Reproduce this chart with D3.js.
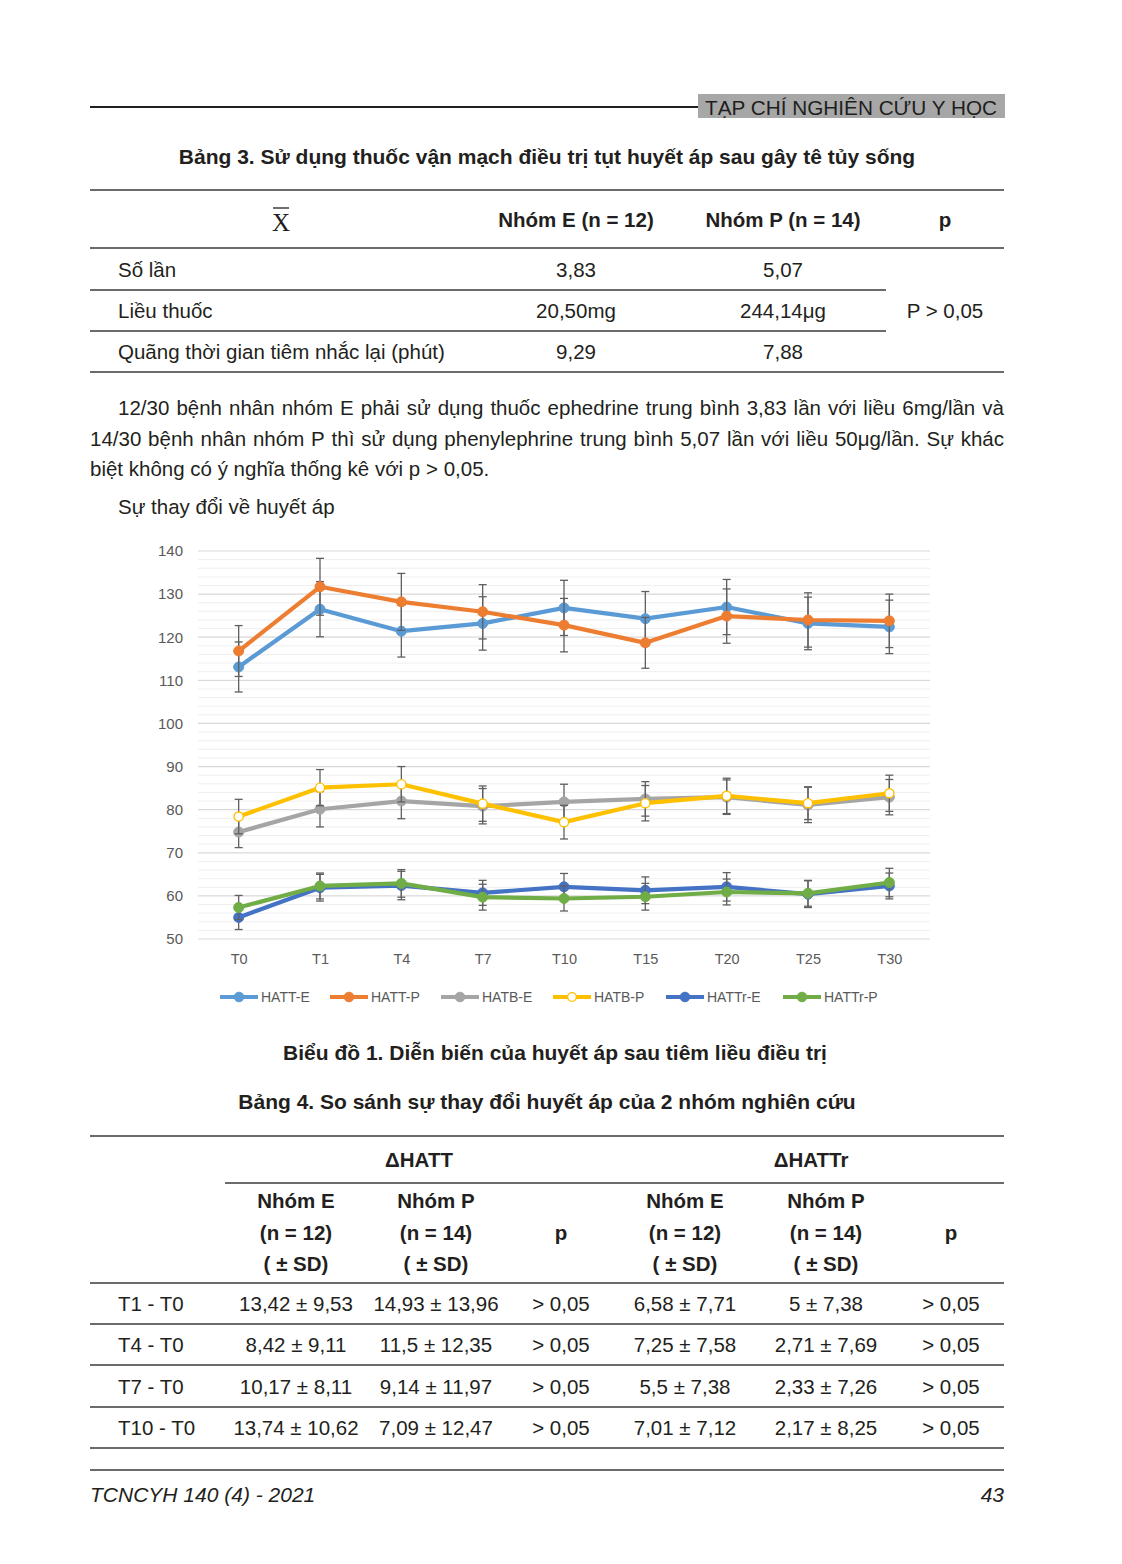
<!DOCTYPE html>
<html>
<head>
<meta charset="utf-8">
<script src="https://cdn.jsdelivr.net/npm/d3@7/dist/d3.min.js"></script>
<style>
  html, body { margin: 0; padding: 0; background: #fff; }
  svg { display: block; }
</style>
</head>
<body>
<svg id="page" width="1122" height="1564"></svg>
<script>
// ---------------- DATA ----------------
const categories = ["T0", "T1", "T4", "T7", "T10", "T15", "T20", "T25", "T30"];
const yTicks = [50, 60, 70, 80, 90, 100, 110, 120, 130, 140];
const seriesNames = ["HATT-E", "HATT-P", "HATB-E", "HATB-P", "HATTr-E", "HATTr-P"];

const hattE   = [113.1, 126.5, 121.4, 123.2, 126.8, 124.3, 127.0, 123.2, 122.4];
const hattESd = [5.8, 6.4, 6.0, 6.2, 6.4, 6.3, 6.4, 6.1, 6.2];
const hattP   = [116.8, 131.7, 128.2, 125.9, 122.8, 118.7, 124.9, 124.0, 123.8];
const hattPSd = [5.9, 6.6, 6.6, 6.3, 6.2, 5.9, 6.3, 6.3, 6.2];
const hatbE   = [74.8, 80.1, 82.0, 80.8, 81.8, 82.5, 82.9, 81.1, 82.9];
const hatbESd = [3.6, 4.1, 4.1, 4.1, 4.1, 4.0, 4.0, 4.1, 4.1];
const hatbP   = [78.4, 85.1, 85.9, 81.4, 77.1, 81.5, 83.2, 81.5, 83.8];
const hatbPSd = [4.0, 4.2, 4.1, 4.1, 3.9, 4.1, 4.1, 3.8, 4.2];
const hattrE   = [55.0, 61.9, 62.4, 60.7, 62.1, 61.3, 62.1, 60.4, 62.3];
const hattrESd = [2.8, 3.1, 3.3, 2.9, 3.1, 3.1, 3.3, 3.1, 3.0];
const hattrP   = [57.3, 62.3, 62.9, 59.7, 59.4, 59.8, 60.9, 60.6, 63.1];
const hattrPSd = [2.8, 3.0, 3.2, 3.0, 2.9, 3.1, 3.0, 3.0, 3.3];

// Table 3
const t3Header = ["Nhóm E (n = 12)", "Nhóm P (n = 14)", "p"];
const t3RowLabels = ["Số lần", "Liều thuốc", "Quãng thời gian tiêm nhắc lại (phút)"];
const t3GroupE = ["3,83", "20,50mg", "9,29"];
const t3GroupP = ["5,07", "244,14μg", "7,88"];
const t3P = "P > 0,05";

// Table 4
const t4Groups = ["ΔHATT", "ΔHATTr"];
const t4SubHeader = [["Nhóm E", "(n = 12)", "( ± SD)"], ["Nhóm P", "(n = 14)", "( ± SD)"], ["", "p", ""],
                     ["Nhóm E", "(n = 12)", "( ± SD)"], ["Nhóm P", "(n = 14)", "( ± SD)"], ["", "p", ""]];
const t4RowLabels = ["T1 - T0", "T4 - T0", "T7 - T0", "T10 - T0"];
const t4HattE = ["13,42 ± 9,53", "8,42 ± 9,11", "10,17 ± 8,11", "13,74 ± 10,62"];
const t4HattP = ["14,93 ± 13,96", "11,5 ± 12,35", "9,14 ± 11,97", "7,09 ± 12,47"];
const t4HattPv = ["> 0,05", "> 0,05", "> 0,05", "> 0,05"];
const t4HattrE = ["6,58 ± 7,71", "7,25 ± 7,58", "5,5 ± 7,38", "7,01 ± 7,12"];
const t4HattrP = ["5 ± 7,38", "2,71 ± 7,69", "2,33 ± 7,26", "2,17 ± 8,25"];
const t4HattrPv = ["> 0,05", "> 0,05", "> 0,05", "> 0,05"];

// Texts
const journalTitle = "TẠP CHÍ NGHIÊN CỨU Y HỌC";
const table3Title = "Bảng 3. Sử dụng thuốc vận mạch điều trị tụt huyết áp sau gây tê tủy sống";
const paraLines = [
  "12/30 bệnh nhân nhóm E phải sử dụng thuốc ephedrine trung bình 3,83 lần với liều 6mg/lần và",
  "14/30 bệnh nhân nhóm P thì sử dụng phenylephrine trung bình 5,07 lần với liều 50μg/lần. Sự khác",
  "biệt không có ý nghĩa thống kê với p > 0,05."
];
const subHeading = "Sự thay đổi về huyết áp";
const chartCaption = "Biểu đồ 1. Diễn biến của huyết áp sau tiêm liều điều trị";
const table4Title = "Bảng 4. So sánh sự thay đổi huyết áp của 2 nhóm nghiên cứu";
const footerLeft = "TCNCYH 140 (4) - 2021";
const footerRight = "43";

// ---------------- DRAW ----------------
const svg = d3.select("#page");
svg.append("rect").attr("width", 1122).attr("height", 1564).attr("fill", "#fff");

const FONT = "'Liberation Sans', Arial, sans-serif";
const INK = "#231f20";
const FS = 20.5;   // body / table text size
const FT = 21;     // bold titles

function txt(x, y, s, opts = {}) {
  const t = svg.append("text")
    .attr("x", x).attr("y", y)
    .attr("font-family", opts.family || FONT)
    .attr("font-size", opts.size || FS)
    .attr("font-weight", opts.weight || "normal")
    .attr("font-style", opts.style || "normal")
    .attr("fill", opts.fill || INK)
    .attr("text-anchor", opts.anchor || "start")
    .text(s);
  if (opts.len) t.attr("textLength", opts.len).attr("lengthAdjust", "spacingAndGlyphs");
  return t;
}
function hline(x1, x2, y, w = 1.6, c = "#3a3a3a") {
  svg.append("line").attr("x1", x1).attr("x2", x2).attr("y1", y).attr("y2", y)
    .attr("stroke", c).attr("stroke-width", w);
}
function justify(x0, x1, y, s, size) {
  const words = s.split(" ");
  const g = svg.append("g");
  const nodes = words.map(w => g.append("text").attr("y", y).attr("font-family", FONT)
    .attr("font-size", size).attr("fill", INK).text(w));
  const widths = nodes.map(n => n.node().getComputedTextLength());
  const total = d3.sum(widths);
  const gap = (x1 - x0 - total) / (words.length - 1);
  let x = x0;
  nodes.forEach((n, i) => { n.attr("x", x); x += widths[i] + gap; });
}

// Header
hline(90, 698, 107, 2, "#231f20");
svg.append("rect").attr("x", 698).attr("y", 94).attr("width", 307).attr("height", 24).attr("fill", "#a7a7a7");
txt(705, 115, journalTitle, { size: 21, len: 292, fill: "#1e1e1e" });

// Table 3
txt(547, 164, table3Title, { size: FT, weight: "bold", anchor: "middle" });
hline(90, 1004, 190);
// X-bar
txt(281, 231, "X", { family: "'Liberation Serif', 'Times New Roman', serif", size: 25, anchor: "middle" });
svg.append("line").attr("x1", 273).attr("x2", 289).attr("y1", 208).attr("y2", 208).attr("stroke", INK).attr("stroke-width", 1.3);
const t3Cols = [576, 783, 945];
t3Header.forEach((h, i) => txt(t3Cols[i], 227, h, { weight: "bold", anchor: "middle" }));
hline(90, 1004, 248);
const t3Rows = [277, 318, 359];
t3RowLabels.forEach((l, i) => {
  txt(118, t3Rows[i], l);
  txt(t3Cols[0], t3Rows[i], t3GroupE[i], { anchor: "middle" });
  txt(t3Cols[1], t3Rows[i], t3GroupP[i], { anchor: "middle" });
});
txt(t3Cols[2], 318, t3P, { anchor: "middle" });
hline(90, 886, 290);
hline(90, 886, 331);
hline(90, 1004, 372);

// Paragraph
justify(118, 1004, 415, paraLines[0], FS);
justify(90, 1004, 446, paraLines[1], FS);
txt(90, 476, paraLines[2]);
txt(118, 514, subHeading);

// ---------------- CHART ----------------
const x = d3.scalePoint().domain(categories).range([198, 930]).padding(0.5);
const y = d3.scaleLinear().domain([50, 140]).range([939, 551]);
const chart = svg.append("g");

// gridlines
const minor = d3.range(50, 141, 2).filter(v => v % 10 !== 0);
chart.selectAll(".minor").data(minor).join("line")
  .attr("x1", 198).attr("x2", 930).attr("y1", d => y(d)).attr("y2", d => y(d))
  .attr("stroke", "#efefef").attr("stroke-width", 1);
chart.selectAll(".major").data(yTicks).join("line")
  .attr("x1", 198).attr("x2", 930).attr("y1", d => y(d)).attr("y2", d => y(d))
  .attr("stroke", "#d9d9d9").attr("stroke-width", 1.2);

// axes (labels only)
const yAxis = d3.axisLeft(y).tickValues(yTicks).tickSize(0).tickPadding(15);
const gy = chart.append("g").attr("transform", "translate(198,0)").call(yAxis);
gy.select(".domain").remove();
gy.selectAll("text").attr("font-family", FONT).attr("font-size", 15).attr("fill", "#595959");

const xAxis = d3.axisBottom(x).tickSize(0).tickPadding(15);
const gx = chart.append("g").attr("transform", "translate(0,939)").call(xAxis);
gx.select(".domain").remove();
gx.selectAll("text").attr("font-family", FONT).attr("font-size", 14.5).attr("fill", "#595959");

const series = [
  { name: seriesNames[0], v: hattE, sd: hattESd, color: "#5b9bd5", hollow: false },
  { name: seriesNames[1], v: hattP, sd: hattPSd, color: "#ed7d31", hollow: false },
  { name: seriesNames[2], v: hatbE, sd: hatbESd, color: "#a5a5a5", hollow: false },
  { name: seriesNames[3], v: hatbP, sd: hatbPSd, color: "#ffc000", hollow: true },
  { name: seriesNames[4], v: hattrE, sd: hattrESd, color: "#4472c4", hollow: false },
  { name: seriesNames[5], v: hattrP, sd: hattrPSd, color: "#70ad47", hollow: false }
];

const line = d3.line().x((d, i) => x(categories[i])).y(d => y(d));
series.forEach(s => {
  const g = chart.append("g");
  g.append("path").attr("d", line(s.v)).attr("fill", "none")
    .attr("stroke", s.color).attr("stroke-width", 4.2).attr("stroke-linejoin", "round");
  const eb = g.append("g").attr("stroke", "#606060").attr("stroke-width", 1.3);
  s.v.forEach((v, i) => {
    const cx = x(categories[i]);
    const lo = y(v - s.sd[i]), hi = y(v + s.sd[i]);
    eb.append("line").attr("x1", cx).attr("x2", cx).attr("y1", lo).attr("y2", hi);
    eb.append("line").attr("x1", cx - 4).attr("x2", cx + 4).attr("y1", lo).attr("y2", lo);
    eb.append("line").attr("x1", cx - 4).attr("x2", cx + 4).attr("y1", hi).attr("y2", hi);
  });
  g.selectAll("circle").data(s.v).join("circle")
    .attr("cx", (d, i) => x(categories[i])).attr("cy", d => y(d))
    .attr("r", s.hollow ? 4.6 : 5)
    .attr("fill", s.hollow ? "#fff" : s.color)
    .attr("stroke", s.color).attr("stroke-width", s.hollow ? 1.4 : 1);
});

// legend
const legendX = [220, 330, 441, 553, 666, 783];
const legendY = 997;
series.forEach((s, i) => {
  const lx = legendX[i];
  svg.append("line").attr("x1", lx).attr("x2", lx + 38).attr("y1", legendY).attr("y2", legendY)
    .attr("stroke", s.color).attr("stroke-width", 4.2);
  svg.append("circle").attr("cx", lx + 19).attr("cy", legendY).attr("r", s.hollow ? 4.4 : 4.8)
    .attr("fill", s.hollow ? "#fff" : s.color).attr("stroke", s.color).attr("stroke-width", s.hollow ? 1.4 : 1);
  txt(lx + 41, legendY + 5, s.name, { size: 14, fill: "#595959" });
});

// Chart caption & Table 4
txt(555, 1060, chartCaption, { size: FT, weight: "bold", anchor: "middle" });
txt(547, 1109, table4Title, { size: FT, weight: "bold", anchor: "middle" });

hline(90, 1004, 1136);
txt(419, 1167, t4Groups[0], { weight: "bold", anchor: "middle" });
txt(811, 1167, t4Groups[1], { weight: "bold", anchor: "middle" });
hline(225, 1004, 1183);
const t4Cols = [296, 436, 561, 685, 826, 951];
const subY = [1208, 1240, 1271];
t4SubHeader.forEach((lines, c) => lines.forEach((l, r) => {
  if (l) txt(t4Cols[c], subY[r], l, { weight: "bold", anchor: "middle" });
}));
hline(90, 1004, 1283);
const t4RowY = [1311, 1352, 1394, 1435];
const t4Data = [t4HattE, t4HattP, t4HattPv, t4HattrE, t4HattrP, t4HattrPv];
t4RowLabels.forEach((l, r) => {
  txt(118, t4RowY[r], l);
  t4Data.forEach((col, c) => txt(t4Cols[c], t4RowY[r], col[r], { anchor: "middle" }));
});
[1324, 1365, 1407, 1448].forEach(yy => hline(90, 1004, yy));

// Footer
hline(90, 1004, 1470, 1.4);
txt(90, 1502, footerLeft, { size: 21, style: "italic" });
txt(1004, 1502, footerRight, { size: 21, style: "italic", anchor: "end" });
</script>
</body>
</html>
